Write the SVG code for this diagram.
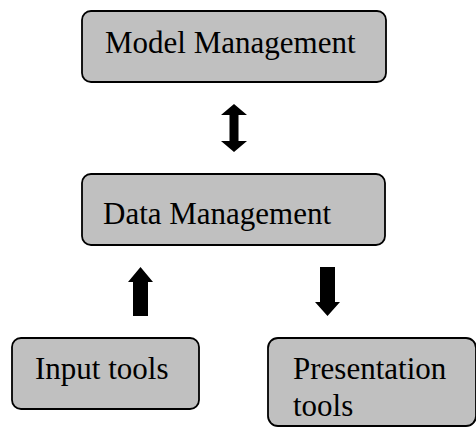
<svg xmlns="http://www.w3.org/2000/svg" width="476" height="427" viewBox="0 0 476 427">
<style>
.box{fill:#c0c0c0;stroke:#000;stroke-width:1.8}
.lbl{font-family:"Liberation Serif","Times New Roman",serif;font-size:31px;fill:#000}
.arr{fill:#000;stroke:none}
</style>
<rect width="476" height="427" fill="#fff"/>
<g id="model-management">
<rect class="box" x="82" y="11" width="304" height="71" rx="9"/>
<text class="lbl" x="105" y="53">Model Management</text>
</g>
<g id="data-management">
<rect class="box" x="82" y="174" width="303" height="71" rx="9"/>
<text class="lbl" x="103" y="224">Data Management</text>
</g>
<g id="input-tools">
<rect class="box" x="12" y="338" width="187" height="71" rx="9"/>
<text class="lbl" x="35" y="379">Input tools</text>
</g>
<g id="presentation-tools">
<rect class="box" x="268" y="338" width="208" height="88" rx="10"/>
<text class="lbl" x="293" y="379">Presentation</text>
<text class="lbl" x="293" y="416">tools</text>
</g>
<g id="connectors">
<polygon class="arr" points="234,104 247,115 238.5,115 238.5,141 247,141 234,152 221,141 229.5,141 229.5,115 221,115"/>
<polygon class="arr" points="140.5,267 153,282 148,282 148,316 133,316 133,282 128,282"/>
<polygon class="arr" points="320,267 335,267 335,302 340,302 327.5,316 315,302 320,302"/>
</g>
</svg>
